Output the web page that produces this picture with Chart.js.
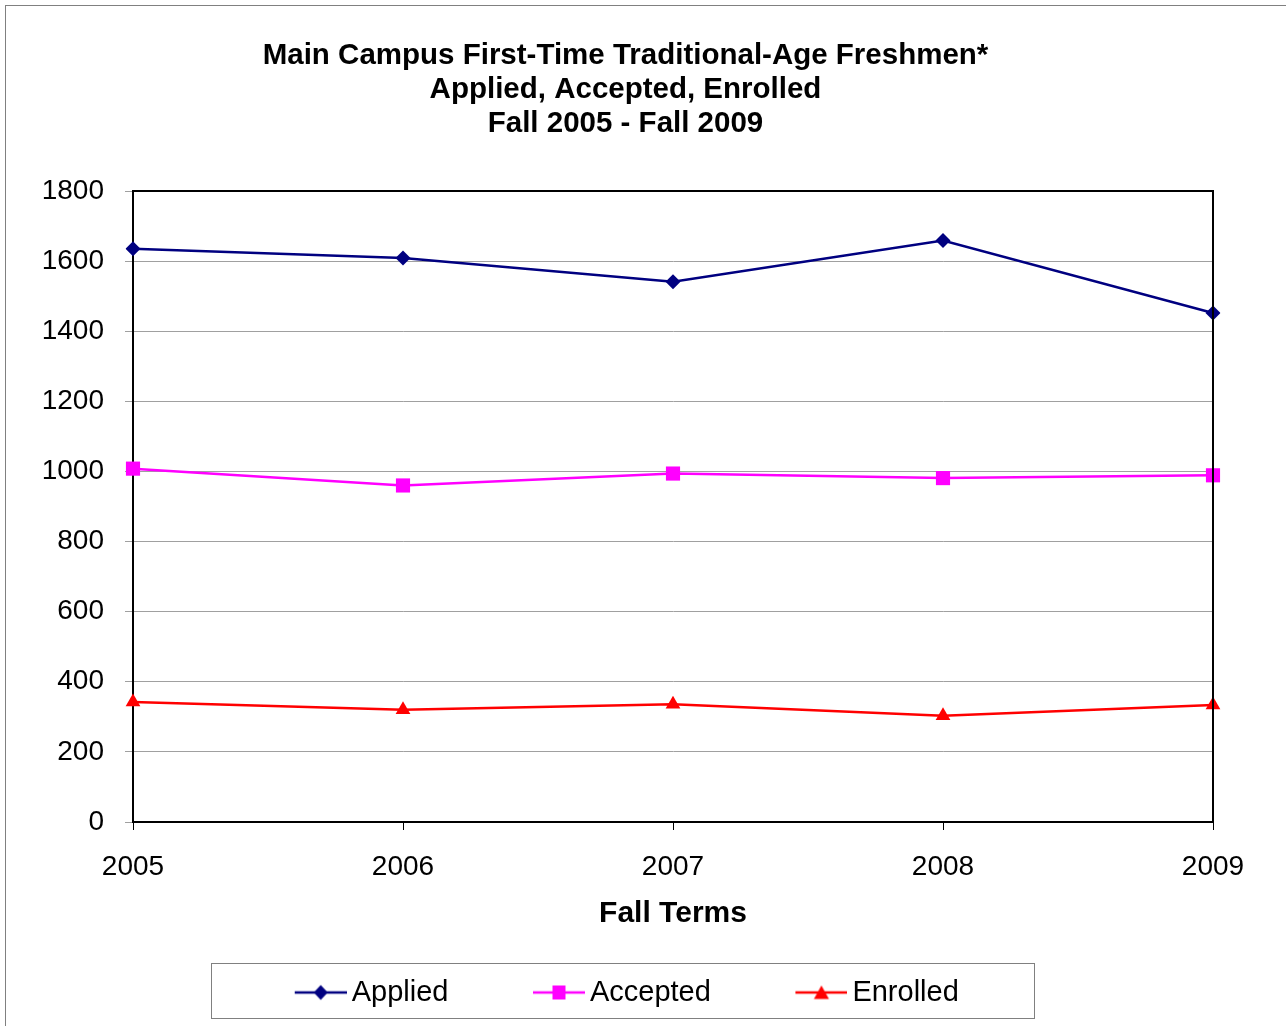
<!DOCTYPE html>
<html>
<head>
<meta charset="utf-8">
<title>Main Campus First-Time Traditional-Age Freshmen</title>
<script src="https://cdn.jsdelivr.net/npm/chart.js@4/dist/chart.umd.min.js"></script>
<style>
  html, body { margin: 0; padding: 0; background: #fff; }
  #wrap { width: 1286px; height: 1026px; }
</style>
</head>
<body>
<div id="wrap"><canvas id="chart" width="1286" height="1026"></canvas></div>
<script>
// данные с графика (оценка по картинке)
const years = ['2005', '2006', '2007', '2008', '2009'];
const applied = [1635, 1609, 1541, 1659, 1452];
const accepted = [1008, 960, 994, 981, 989];
const enrolled = [342, 320, 336, 303, 334];
const titleLines = [
    'Main Campus First-Time Traditional-Age Freshmen*',
    'Applied, Accepted, Enrolled',
    'Fall 2005 - Fall 2009'
];

const FONT = 'Arial, "Liberation Sans", sans-serif';

// значок легенды: линия с маркером, слева прозрачный отступ 12px
function legendIcon(color, shape) {
    const c = document.createElement('canvas');
    c.width = 64;
    c.height = 20;
    const g = c.getContext('2d');
    g.translate(12, 0);
    g.strokeStyle = color;
    g.fillStyle = color;
    g.lineWidth = 2.5;
    g.beginPath();
    g.moveTo(0, 10);
    g.lineTo(52, 10);
    g.stroke();
    g.beginPath();
    if (shape === 'diamond') {
        g.moveTo(26, 2.5); g.lineTo(33, 10); g.lineTo(26, 17.5); g.lineTo(19, 10);
    } else if (shape === 'square') {
        g.rect(19.5, 3, 13, 14);
    } else {
        g.moveTo(26, 3); g.lineTo(33.5, 16.5); g.lineTo(18.5, 16.5);
    }
    g.closePath();
    g.fill();
    return c;
}

const icons = [
    legendIcon('#000080', 'diamond'),
    legendIcon('#FF00FF', 'square'),
    legendIcon('#FF0000', 'triangle')
];

// рамка страницы, рамка области графика и рамка легенды
const framePlugin = {
    id: 'frames',
    beforeDraw(chart) {
        const ctx = chart.ctx;
        ctx.save();
        ctx.fillStyle = '#fff';
        ctx.fillRect(0, 0, chart.width, chart.height);
        ctx.strokeStyle = '#808080';
        ctx.lineWidth = 1;
        ctx.strokeRect(5.5, 5.5, chart.width + 20, chart.height + 20);
        ctx.restore();
    },
    afterDatasetsDraw(chart) {
        const a = chart.chartArea;
        const ctx = chart.ctx;
        ctx.save();
        ctx.strokeStyle = '#000';
        ctx.lineWidth = 2;
        ctx.beginPath();
        ctx.moveTo(a.left, a.top);
        ctx.lineTo(a.right, a.top);
        ctx.lineTo(a.right, a.bottom);
        ctx.stroke();
        ctx.restore();
    },
    afterDraw(chart) {
        const boxes = chart.legend.legendHitBoxes;
        if (!boxes || !boxes.length) return;
        let l = Infinity, r = -Infinity, cy = 0;
        boxes.forEach(h => {
            l = Math.min(l, h.left);
            r = Math.max(r, h.left + h.width);
            cy = h.top + h.height / 2;
        });
        const ctx = chart.ctx;
        ctx.save();
        ctx.strokeStyle = '#808080';
        ctx.lineWidth = 1;
        const x0 = Math.round(l - 81), x1 = Math.round(r + 75);
        const y0 = Math.round(cy - 30), y1 = Math.round(cy + 25);
        ctx.strokeRect(x0 + 0.5, y0 + 0.5, x1 - x0, y1 - y0);
        ctx.restore();
    }
};

function makeDataset(label, data, color, pointStyle, radius, icon) {
    return {
        label: label,
        data: data,
        borderColor: color,
        backgroundColor: color,
        borderWidth: 2.5,
        pointStyle: pointStyle,
        pointRadius: radius,
        pointHoverRadius: radius,
        pointBorderWidth: 0,
        tension: 0,
        legendIcon: icon
    };
}

new Chart(document.getElementById('chart').getContext('2d'), {
    type: 'line',
    data: {
        labels: years,
        datasets: [
            makeDataset('Applied', applied, '#000080', 'rectRot', 7.5, icons[0]),
            makeDataset('Accepted', accepted, '#FF00FF', 'rect', 10, icons[1]),
            makeDataset('Enrolled', enrolled, '#FF0000', 'triangle', 8.5, icons[2])
        ]
    },
    options: {
        responsive: false,
        animation: false,
        devicePixelRatio: 1,
        layout: {
            padding: { left: 38, right: 73, top: 0, bottom: 9 }
        },
        plugins: {
            tooltip: { enabled: false },
            title: {
                display: true,
                text: titleLines,
                color: '#000',
                font: { family: FONT, size: 29.5, weight: 'bold', lineHeight: 34 / 29.5 },
                padding: { top: 39, bottom: 50 }
            },
            legend: {
                display: true,
                position: 'bottom',
                labels: {
                    color: '#000',
                    font: { family: FONT, size: 29 },
                    usePointStyle: true,
                    pointStyleWidth: 45,
                    padding: 82,
                    generateLabels(chart) {
                        return chart.data.datasets.map((ds, i) => ({
                            text: ds.label,
                            pointStyle: ds.legendIcon,
                            fillStyle: ds.borderColor,
                            strokeStyle: ds.borderColor,
                            lineWidth: 0,
                            fontColor: '#000',
                            hidden: false,
                            datasetIndex: i
                        }));
                    }
                }
            }
        },
        scales: {
            x: {
                offset: false,
                grid: {
                    drawOnChartArea: false,
                    drawTicks: true,
                    tickLength: 8,
                    color: '#000'
                },
                border: { display: true, color: '#000', width: 2 },
                ticks: {
                    color: '#000',
                    padding: 20,
                    maxRotation: 0,
                    font: { family: FONT, size: 28 }
                },
                title: {
                    display: true,
                    text: 'Fall Terms',
                    color: '#000',
                    font: { family: FONT, size: 30, weight: 'bold' },
                    padding: { top: 0, bottom: -36 }
                },
                afterFit(scale) { scale.height = 74; }
            },
            y: {
                min: 0,
                max: 1800,
                grid: {
                    color: '#a0a0a0',
                    lineWidth: 1,
                    drawTicks: true,
                    tickLength: 8
                },
                border: { display: true, color: '#000', width: 2 },
                ticks: {
                    stepSize: 200,
                    color: '#000',
                    padding: 21,
                    font: { family: FONT, size: 28 },
                    callback: v => String(v)
                },
                afterFit(scale) { scale.width = 95; }
            }
        }
    },
    plugins: [framePlugin]
});
</script>
</body>
</html>
